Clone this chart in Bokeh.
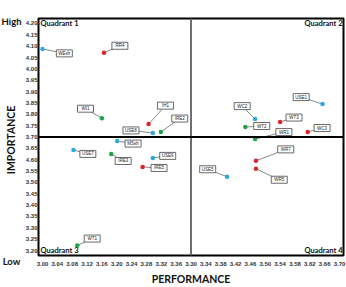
import math
from bokeh.plotting import figure
from bokeh.layouts import row
from bokeh.models import Range1d, FixedTicker, Span, Label, ColumnDataSource
from bokeh.core.properties import value
from bokeh.embed import file_html
from bokeh.resources import INLINE

# Attribute codes with their mean performance / importance scores
codes = ["WEsh", "RR4", "WI1", "MSsh", "USE7", "IRE3", "IH1", "IRE2", "USE8", "USE6",
         "IRE5", "USE5", "USE1", "WC2", "WT3", "WT2", "WC3", "WR1", "WR7", "WR5", "WT1"]
performance = [3.000, 3.145, 3.140, 3.176, 3.073, 3.162, 3.250, 3.279, 3.260, 3.260,
               3.236, 3.435, 3.660, 3.501, 3.560, 3.478, 3.625, 3.501, 3.503, 3.503, 3.082]
importance = [4.088, 4.071, 3.783, 3.682, 3.643, 3.625, 3.757, 3.722, 3.718, 3.608,
              3.568, 3.525, 3.845, 3.779, 3.766, 3.744, 3.722, 3.691, 3.595, 3.560, 3.222]
group = ["A", "B", "C", "A", "A", "C", "B", "C", "A", "A",
         "B", "A", "A", "A", "B", "C", "B", "C", "B", "B", "C"]

# Axis ticks and their printed labels
x_ticks = [round(3.00 + 0.035 * i, 3) for i in range(21)]
x_tick_labels = ["3.00", "3.04", "3.08", "3.12", "3.16", "3.20", "3.24", "3.28", "3.32", "3.36",
                 "3.30", "3.34", "3.38", "3.42", "3.46", "3.50", "3.54", "3.58", "3.62", "3.66", "3.70"]
y_ticks = [round(3.20 + 0.05 * i, 2) for i in range(21)]
y_tick_labels = ["3.20", "3.25", "3.30", "3.35", "3.40", "3.45", "3.50", "3.55", "4.60", "3.65",
                 "3.70", "3.75", "3.80", "3.85", "3.90", "3.95", "4.00", "4.05", "4.10", "4.15", "4.20"]
x_mid = x_ticks[10]
y_mid = 3.70

# Callout box offsets from each point, in pixels (right, down)
callout_offsets = [(22, 4.5), (16, -7), (-16.5, -9.5), (16, 2.5), (14.5, 4), (12, 7),
                   (17, -18.5), (19, -13.5), (-22, -2.5), (15, -2), (16.5, 1), (-19.5, -7.5),
                   (-21.5, -7), (-13, -13), (14, -4.5), (16.5, -1), (14.5, -4), (29, -7),
                   (30, -11.5), (23.5, 11), (15, -7)]

colors = {"A": "#2AA8E0", "B": "#E0232B", "C": "#22A24A"}

W, H = 346, 287
SIDE_W = 22
TOP, BOTTOM = 18, 31           # borders around the plot frame

# Pixel-to-data factors for the plot frame
px_x = 0.035 / 14.95
px_y = 1.0 / 228.0

x_range = Range1d(3.00 - 4 * px_x, 3.70 + 4 * px_x)
y_range = Range1d(3.20 - 5 * px_y, 4.20 + 5 * px_y)

bx = [x + dx * px_x for x, (dx, dy) in zip(performance, callout_offsets)]
by = [y - dy * px_y for y, (dx, dy) in zip(importance, callout_offsets)]

src = ColumnDataSource(dict(x=performance, y=importance, code=codes, bx=bx, by=by,
                            color=[colors[g] for g in group]))

# Narrow strip on the left carrying the importance caption and High / Low.
# Its frame lines up with the main frame; y is measured in pixels from the top.
side = figure(width=SIDE_W, height=H, x_range=Range1d(0, SIDE_W), y_range=Range1d(H - BOTTOM, TOP),
              output_backend="svg", toolbar_location=None,
              min_border_left=0, min_border_right=0, min_border_top=0, min_border_bottom=0)
side.yaxis.visible = False
side.grid.visible = False
side.outline_line_color = None
sx = side.xaxis[0]
sx.ticker = FixedTicker(ticks=[])
sx.axis_line_color = None
sx.major_tick_out = 0
sx.major_tick_in = 0
sx.minor_tick_out = 0
sx.minor_tick_in = 0
sx.major_label_standoff = 0
sx.axis_label = "Low"
sx.axis_label_standoff = 0
sx.axis_label_text_font = "Lato"
sx.axis_label_text_font_size = "9.5px"
sx.axis_label_text_font_style = "bold"
sx.axis_label_text_color = "#111111"

side_font = dict(text_font=value("Lato"), text_font_style="bold", text_color="#111111",
                 text_baseline="middle")
side.text(x=[1], y=[21], text=["High"], text_font_size="9.5px", text_align="left", **side_font)
side.text(x=[10.5], y=[140], text=["IMPORTANCE"], angle=math.pi / 2, text_font_size="10.5px",
          text_align="center", **side_font)

p = figure(width=W - SIDE_W, height=H, x_range=x_range, y_range=y_range,
           output_backend="svg", toolbar_location=None,
           min_border_left=14, min_border_right=3, min_border_top=TOP, min_border_bottom=BOTTOM)
p.grid.visible = False
p.outline_line_color = "black"
p.outline_line_width = 2
p.background_fill_color = "white"
p.border_fill_color = "white"

# Axes
for ax, ticks, labels in ((p.xaxis[0], x_ticks, x_tick_labels), (p.yaxis[0], y_ticks, y_tick_labels)):
    ax.ticker = FixedTicker(ticks=ticks)
    ax.major_label_overrides = {t: l for t, l in zip(ticks, labels)}
    ax.axis_line_color = None
    ax.major_tick_line_color = None
    ax.minor_tick_line_color = None
    ax.major_tick_out = 0
    ax.major_tick_in = 0
    ax.minor_tick_out = 0
    ax.minor_tick_in = 0
    ax.major_label_text_font = "Liberation Sans"
    ax.major_label_text_font_size = "6px"
    ax.major_label_text_font_style = "bold"
    ax.major_label_text_color = "#333333"

p.xaxis.axis_label = "PERFORMANCE"
p.xaxis.axis_label_text_font = "Lato"
p.xaxis.axis_label_text_font_size = "10.5px"
p.xaxis.axis_label_text_font_style = "bold"
p.xaxis.axis_label_text_color = "#111111"
p.xaxis.major_label_standoff = 6
p.xaxis.axis_label_standoff = 4
p.yaxis.major_label_standoff = 1

# Quadrant dividers
p.add_layout(Span(location=x_mid, dimension="height", line_color="#6E6E6E", line_width=2))
p.add_layout(Span(location=y_mid, dimension="width", line_color="black", line_width=2))

# Callouts: connector, box, text
p.segment(x0="x", y0="y", x1="bx", y1="by", source=src, line_color="#555555", line_width=0.7)
p.rect(x="bx", y="by", width=16, height=7, width_units="screen", height_units="screen",
       source=src, fill_color="white", line_color="#444444", line_width=0.8)
p.text(x="bx", y="by", text="code", source=src, text_font=value("Liberation Sans"),
       text_font_size="4.5px", text_align="center", text_baseline="middle", text_color="#222222")
p.scatter(x="x", y="y", source=src, size=4.5, color="color", line_color=None)

# Quadrant names
qfont = dict(text_font="Lato", text_font_size="7.5px", text_font_style="bold", text_color="#111111",
             text_baseline="middle")
x0, x1 = x_range.start, x_range.end
y0, y1 = y_range.start, y_range.end
p.add_layout(Label(x=x0, y=y1, x_offset=2, y_offset=-5, text="Quadrant 1", text_align="left", **qfont))
p.add_layout(Label(x=x1, y=y1, x_offset=-1, y_offset=-5, text="Quadrant 2", text_align="right", **qfont))
p.add_layout(Label(x=x0, y=y0, x_offset=2, y_offset=5, text="Quadrant 3", text_align="left", **qfont))
p.add_layout(Label(x=x1, y=y0, x_offset=-1, y_offset=5, text="Quadrant 4", text_align="right", **qfont))

layout = row(side, p, spacing=0)
open("out.html", "w").write(file_html(layout, INLINE))
